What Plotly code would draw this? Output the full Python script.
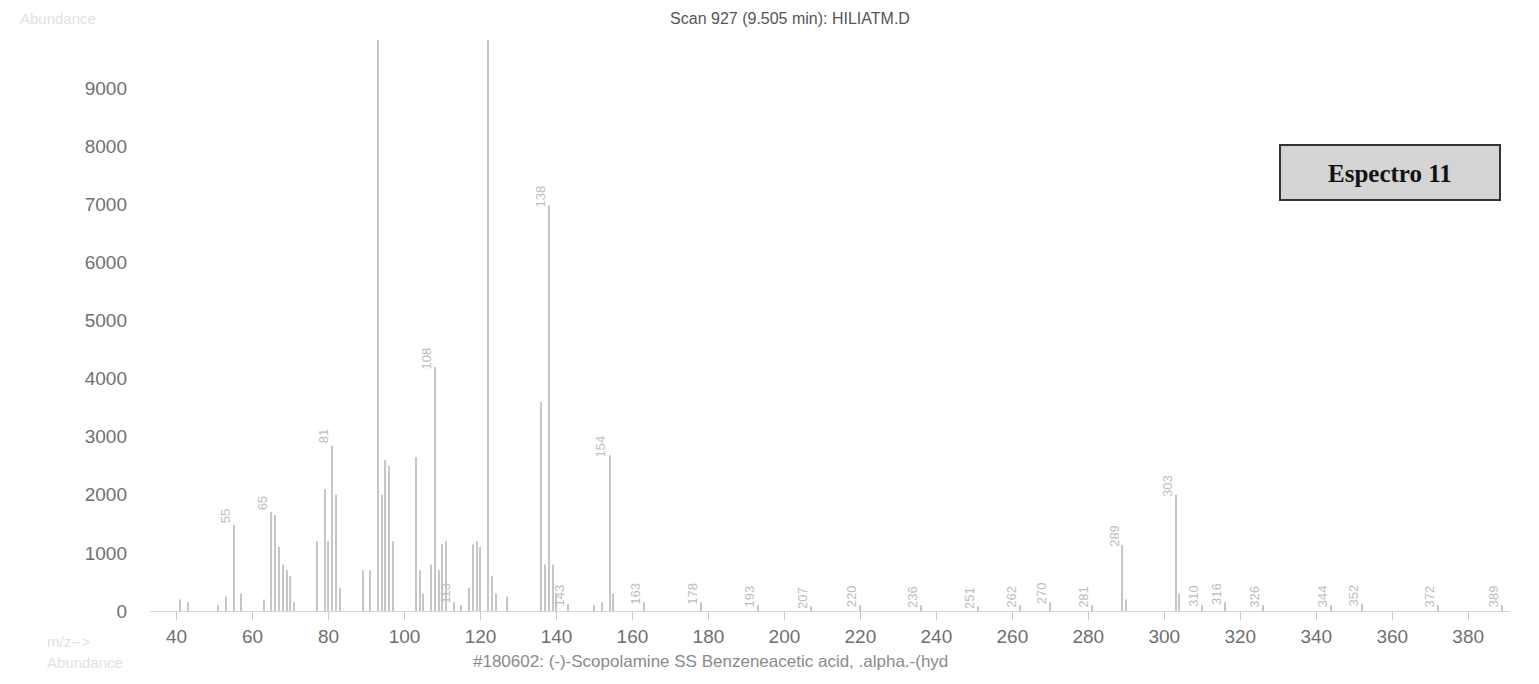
import plotly.graph_objects as go

# m/z values and abundances
mz = [41, 43, 51, 53, 55, 57, 63, 65, 66, 67, 68, 69, 70, 71, 77, 79, 80, 81, 82, 83,
      89, 91, 93, 94, 95, 96, 97, 103, 104, 105, 107, 108, 109, 110, 111, 113, 115,
      117, 118, 119, 120, 122, 123, 124, 127, 136, 137, 138, 139, 140, 143, 150, 152,
      154, 155, 163, 178, 193, 207, 220, 236, 251, 262, 270, 281, 289, 290, 303, 304,
      310, 316, 326, 344, 352, 372, 389]
abundance = [200, 150, 100, 250, 1480, 300, 200, 1700, 1650, 1100, 800, 700, 600, 150,
             1200, 2100, 1200, 2850, 2000, 400, 700, 700, 9900, 2000, 2600, 2500, 1200,
             2650, 700, 300, 800, 4200, 700, 1150, 1200, 150, 100, 400, 1150, 1200, 1100,
             9900, 600, 300, 250, 3600, 800, 6990, 800, 300, 120, 100, 150, 2680, 300,
             150, 150, 100, 80, 100, 100, 80, 100, 150, 100, 1140, 200, 2000, 300, 100,
             150, 100, 100, 120, 100, 100]
label_mz = [55, 65, 81, 108, 113, 138, 143, 154, 163, 178, 193, 207, 220, 236, 251, 262,
            270, 281, 289, 303, 310, 316, 326, 344, 352, 372, 389]
yticks = [0, 1000, 2000, 3000, 4000, 5000, 6000, 7000, 8000, 9000]
xticks = [40, 60, 80, 100, 120, 140, 160, 180, 200, 220, 240, 260, 280, 300, 320, 340,
          360, 380]

# page has an 8px body margin, so the figure is drawn 8px smaller
W, H = 1531, 676
L, T, B, R = 142, 32, 73, 29
PW, PH = W - L - R, H - T - B


def px(x_page):
    return (x_page - 8 - L) / PW


def py(y_page):
    return (H - B - (y_page - 8)) / PH


fig = go.Figure(go.Bar(x=mz, y=abundance, width=0.3, marker_color="#c6c6c6",
                       marker_line_width=0))

for m in label_mz:
    a = abundance[mz.index(m)]
    fig.add_annotation(x=m - 2.3, y=a + 150, text=str(m), textangle=-90,
                       showarrow=False, font=dict(size=13, color="#bdbdbd"))

fig.add_shape(type="rect", xref="paper", yref="paper",
              x0=px(1280), x1=px(1500), y0=py(200), y1=py(145),
              fillcolor="#d4d4d4", line=dict(color="#333333", width=2))
fig.add_annotation(x=px(1390), y=py(173), xref="paper", yref="paper",
                   xanchor="center", yanchor="middle",
                   text="<b>Espectro 11</b>", showarrow=False,
                   font=dict(family="Liberation Serif", size=25, color="#111111"))

fig.add_annotation(x=px(710), y=py(661), xref="paper", yref="paper",
                   xanchor="center", yanchor="middle",
                   text="#180602: (-)-Scopolamine SS Benzeneacetic acid, .alpha.-(hyd",
                   showarrow=False, font=dict(size=17, color="#8a8a8a"))

for txt, xp, yp in [("Abundance", 18, 18), ("m/z-->", 45, 641), ("Abundance", 45, 662)]:
    fig.add_annotation(x=px(xp), y=py(yp), xref="paper", yref="paper",
                       xanchor="left", yanchor="middle", text=txt, showarrow=False,
                       font=dict(size=15, color="#e2e2e2"))

fig.update_layout(
    width=W, height=H,
    margin=dict(l=L, r=R, t=T, b=B),
    plot_bgcolor="white", paper_bgcolor="white",
    showlegend=False,
    font=dict(family="Liberation Sans, Arial", size=19, color="#707070"),
    title=dict(text="Scan 927 (9.505 min): HILIATM.D", x=(790 - 8) / W,
               y=1 - 10 / H, xanchor="center", yanchor="middle",
               font=dict(size=16, color="#555555")),
    xaxis=dict(range=[33, 391], tickvals=xticks, ticks="outside", ticklen=8,
               tickcolor="#c8c8c8", showline=True, linecolor="#d8d8d8",
               showgrid=False, zeroline=False),
    yaxis=dict(range=[0, 9830], tickvals=yticks, ticks="", showgrid=False,
               zeroline=False, showline=False, ticklabelstandoff=22),
)

fig.write_html("out.html")
